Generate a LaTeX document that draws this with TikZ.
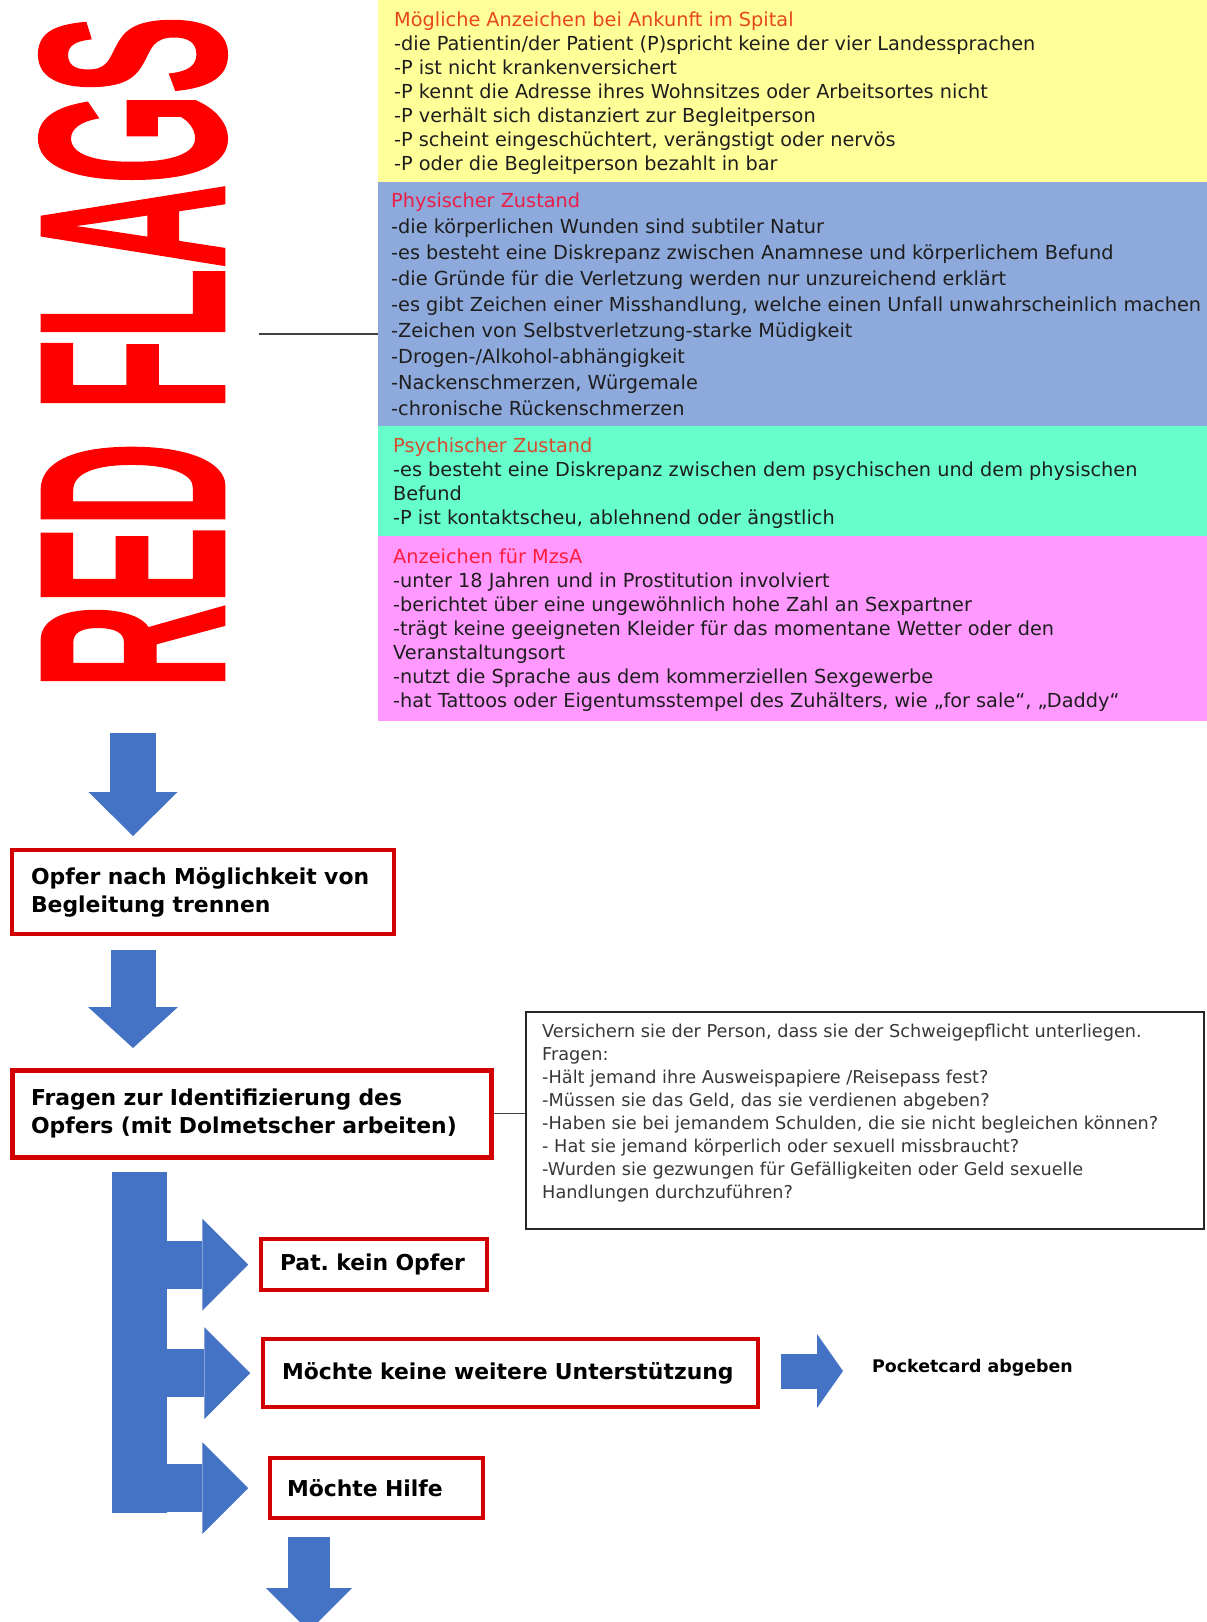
\documentclass[tikz,border=0pt]{standalone}
\usepackage{fontspec}
\setmainfont{DejaVu Sans}
\newfontface\flagfont{Liberation Sans Bold}[FakeBold=1.2]
\usetikzlibrary{arrows.meta,positioning}
\frenchspacing

\definecolor{flagred}{RGB}{255,0,0}
\definecolor{arrivalyellow}{RGB}{255,255,153}
\definecolor{physblue}{RGB}{142,169,219}
\definecolor{psychgreen}{RGB}{102,255,204}
\definecolor{mzsapink}{RGB}{255,153,255}
\definecolor{flowblue}{RGB}{68,114,196}
\definecolor{boxred}{RGB}{210,0,0}
\definecolor{bodyink}{RGB}{30,30,30}
\definecolor{askgray}{RGB}{55,55,55}

\tikzset{
  signbox/.style={anchor=north west, minimum width=829pt, inner sep=0pt},
  signline/.style={anchor=base west, inner sep=0pt, text=bodyink, font=\fontsize{19.3}{23}\selectfont},
  asksline/.style={anchor=base west, inner sep=0pt, text=askgray, font=\fontsize{17.7}{21}\selectfont},
  stepbox/.style={draw=boxred, line width=3.5pt, fill=white, align=left, inner xsep=19pt, inner ysep=0pt, font=\bfseries\fontsize{21.9}{28}\selectfont},
  fatarrow/.style n args={3}{draw=flowblue, line width=#1, -{Triangle[width=#2, length=#3, line width=0pt]}},
  linkline/.style={draw=black!75, line width=1.5pt}
}

\begin{document}
\begin{tikzpicture}[x=1pt, y=-1pt]
    \useasboundingbox (0,0) rectangle (1207,1622);

    % Red flags title
    \node[rotate=90, inner sep=0pt, text=flagred] (flags) at (133,352) {\resizebox{672pt}{184pt}{\flagfont RED FLAGS}};

    % Sign blocks
    \node[signbox, fill=arrivalyellow, minimum height=182pt] (arrival) at (378,0) {};
    \node[signbox, fill=physblue, minimum height=244pt] (phys) at (378,182) {};
    \node[signbox, fill=psychgreen, minimum height=110pt] (psych) at (378,426) {};
    \node[signbox, fill=mzsapink, minimum height=185pt] (mzsa) at (378,536) {};

    \node[signline, text={rgb,255:red,232;green,70;blue,30}] (arrival-0) at (394,26) {Mögliche Anzeichen bei Ankunft im Spital};
    \foreach \t [count=\i] in {{-die Patientin/der Patient (P)spricht keine der vier Landessprachen},
        {-P ist nicht krankenversichert},
        {-P kennt die Adresse ihres Wohnsitzes oder Arbeitsortes nicht},
        {-P verhält sich distanziert zur Begleitperson},
        {-P scheint eingeschüchtert, verängstigt oder nervös},
        {-P oder die Begleitperson bezahlt in bar}}
        \node[signline] (arrival-\i) at (394,26+24.1*\i) {\t};

    \node[signline, text={rgb,255:red,235;green,30;blue,70}] (phys-0) at (391,207) {Physischer Zustand};
    \foreach \t [count=\i] in {{-die körperlichen Wunden sind subtiler Natur},
        {-es besteht eine Diskrepanz zwischen Anamnese und körperlichem Befund},
        {-die Gründe für die Verletzung werden nur unzureichend erklärt},
        {-es gibt Zeichen einer Misshandlung, welche einen Unfall unwahrscheinlich machen},
        {-Zeichen von Selbstverletzung-starke Müdigkeit},
        {-Drogen-/Alkohol-abhängigkeit},
        {-Nackenschmerzen, Würgemale},
        {-chronische Rückenschmerzen}}
        \node[signline] (phys-\i) at (391,207+26.1*\i) {\t};

    \node[signline, text={rgb,255:red,215;green,75;blue,45}] (psych-0) at (393,452) {Psychischer Zustand};
    \foreach \t [count=\i] in {{-es besteht eine Diskrepanz zwischen dem psychischen und dem physischen},
        {Befund},
        {-P ist kontaktscheu, ablehnend oder ängstlich}}
        \node[signline] (psych-\i) at (393,452+24.1*\i) {\t};

    \node[signline, text={rgb,255:red,255;green,30;blue,60}] (mzsa-0) at (393,563.5) {Anzeichen für MzsA};
    \foreach \t [count=\i] in {{-unter 18 Jahren und in Prostitution involviert},
        {-berichtet über eine ungewöhnlich hohe Zahl an Sexpartner},
        {-trägt keine geeigneten Kleider für das momentane Wetter oder den},
        {Veranstaltungsort},
        {-nutzt die Sprache aus dem kommerziellen Sexgewerbe},
        {-hat Tattoos oder Eigentumsstempel des Zuhälters, wie „for sale“, „Daddy“}}
        \node[signline] (mzsa-\i) at (393,563.5+23.95*\i) {\t};

    \coordinate (flagstail) at (259,334);
    \draw[linkline] (flagstail) -- (flagstail -| phys.west);

    % Flow
    \coordinate (flow1s) at (133,733); \coordinate (flow1e) at (133,836);
    \draw[fatarrow={46pt}{89pt}{44pt}] (flow1s) -- (flow1e);

    \node[stepbox, text width=344pt, minimum height=84pt] (separate) at (203,892) {Opfer nach Möglichkeit von\\Begleitung trennen};

    \coordinate (flow2s) at (133,950); \coordinate (flow2e) at (133,1048);
    \draw[fatarrow={45pt}{90pt}{41pt}] (flow2s) -- (flow2e);

    \node[stepbox, line width=5pt, text width=441pt, minimum height=87pt] (identify) at (251.5,1113.5) {Fragen zur Identifizierung des\\Opfers (mit Dolmetscher arbeiten)};

    % Questions
    \node[draw=black!85, line width=1.5pt, anchor=north west, minimum width=678pt, minimum height=217pt, inner sep=0pt] (questions) at (525,1011) {};
    \foreach \t [count=\i from 0] in {{Versichern sie der Person, dass sie der Schweigepflicht unterliegen.},
        {Fragen:},
        {-Hält jemand ihre Ausweispapiere /Reisepass fest?},
        {-Müssen sie das Geld, das sie verdienen abgeben?},
        {-Haben sie bei jemandem Schulden, die sie nicht begleichen können?},
        {- Hat sie jemand körperlich oder sexuell missbraucht?},
        {-Wurden sie gezwungen für Gefälligkeiten oder Geld sexuelle},
        {Handlungen durchzuführen?}}
        \node[asksline] (ask-\i) at (542,1037+23.1*\i) {\t};
    \draw[linkline] (identify.east) -- (identify.east -| questions.west);

    % Outcomes
    \node[fill=flowblue, anchor=north west, minimum width=55pt, minimum height=341pt, inner sep=0pt] (trunk) at (112,1172) {};
    \node[stepbox, text width=188pt, minimum height=51pt] (novictim) at (374,1264.5) {Pat. kein Opfer};
    \node[stepbox, text width=457pt, minimum height=68pt] (nosupport) at (510.5,1373) {Möchte keine weitere Unterstützung};
    \node[stepbox, inner xsep=17pt, text width=179pt, minimum height=60pt] (wantshelp) at (376.5,1488) {Möchte Hilfe};
    \foreach \n/\gap in {novictim/11, nosupport/11, wantshelp/20}
        \draw[fatarrow={48pt}{92pt}{46pt}] (trunk.center |- \n.west) -- ([xshift=-\gap pt]\n.west);

    \node[anchor=west, inner sep=0pt, font=\bfseries\fontsize{17.4}{20}\selectfont] (pocketcard) at (872,1368) {Pocketcard abgeben};
    \coordinate (pockets) at (781,1371); \coordinate (pockete) at (843,1371);
    \draw[fatarrow={35pt}{74pt}{26pt}] (pockets) -- (pockete);

    \coordinate (helps) at (309,1537); \coordinate (helpe) at (309,1631);
    \draw[fatarrow={42pt}{86pt}{43pt}] (helps) -- (helpe);
\end{tikzpicture}
\end{document}
